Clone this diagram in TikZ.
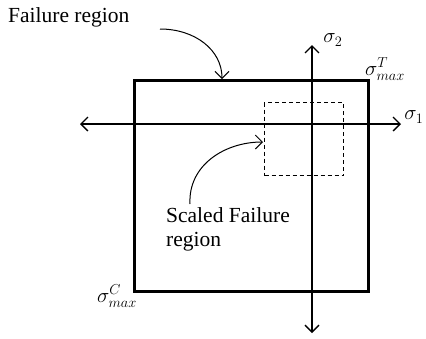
\documentclass[tikz,border=0pt]{standalone}
\usepackage{fontspec}
\setmainfont{Liberation Serif}
\usetikzlibrary{arrows.meta}
\tikzset{
  >={Straight Barb[length=7pt,width=14pt]},
  lbl/.style={font=\rmfamily\fontsize{21.5}{24}\selectfont, align=left, inner sep=0pt},
  mlbl/.style={font=\fontsize{22}{24}\selectfont, inner sep=0pt},
  axis/.style={line width=1.3pt},
  pointer/.style={->, line width=1pt},
}
\begin{document}
\begin{tikzpicture}[x=1pt,y=-1pt]
\useasboundingbox (0,0) rectangle (426,338);
\node[draw, line width=2.6pt, minimum width=234pt, minimum height=211pt, inner sep=0pt, anchor=north west] (outer) at (133,79) {};
\node[draw, dash pattern=on 4pt off 3pt, line width=1pt, minimum width=79pt, minimum height=73pt, inner sep=0pt, anchor=north west] (inner) at (264,102) {};
\coordinate (w) at (80,124);
\coordinate (e) at (401,124);
\coordinate (n) at (312,45);
\coordinate (s) at (312,333);
\draw[axis, <->] (w) -- (e);
\draw[axis, <->] (s) -- (n);
\node[mlbl] (s2) at (333,40) {$\sigma_2$};
\node[mlbl] (s1) at (414,117) {$\sigma_1$};
\node[mlbl] (smaxT) at (385,69) {$\sigma_{max}^{T}$};
\node[mlbl] (smaxC) at (117,296) {$\sigma_{max}^{C}$};
\node[lbl, anchor=west] (fail) at (8,17) {Failure region};
\node[lbl, anchor=north west] (scaled) at (166,207) {Scaled Failure\\region};
\coordinate (fstart) at (160,29);
\coordinate (ftip) at (222,79);
\coordinate (sstart) at (190,204);
\coordinate (stip) at (263,142);
\draw[pointer] (fstart) .. controls (195,29) and (222,50) .. (ftip);
\draw[pointer] (sstart) .. controls (188,165) and (225,142) .. (stip);
\end{tikzpicture}
\end{document}
